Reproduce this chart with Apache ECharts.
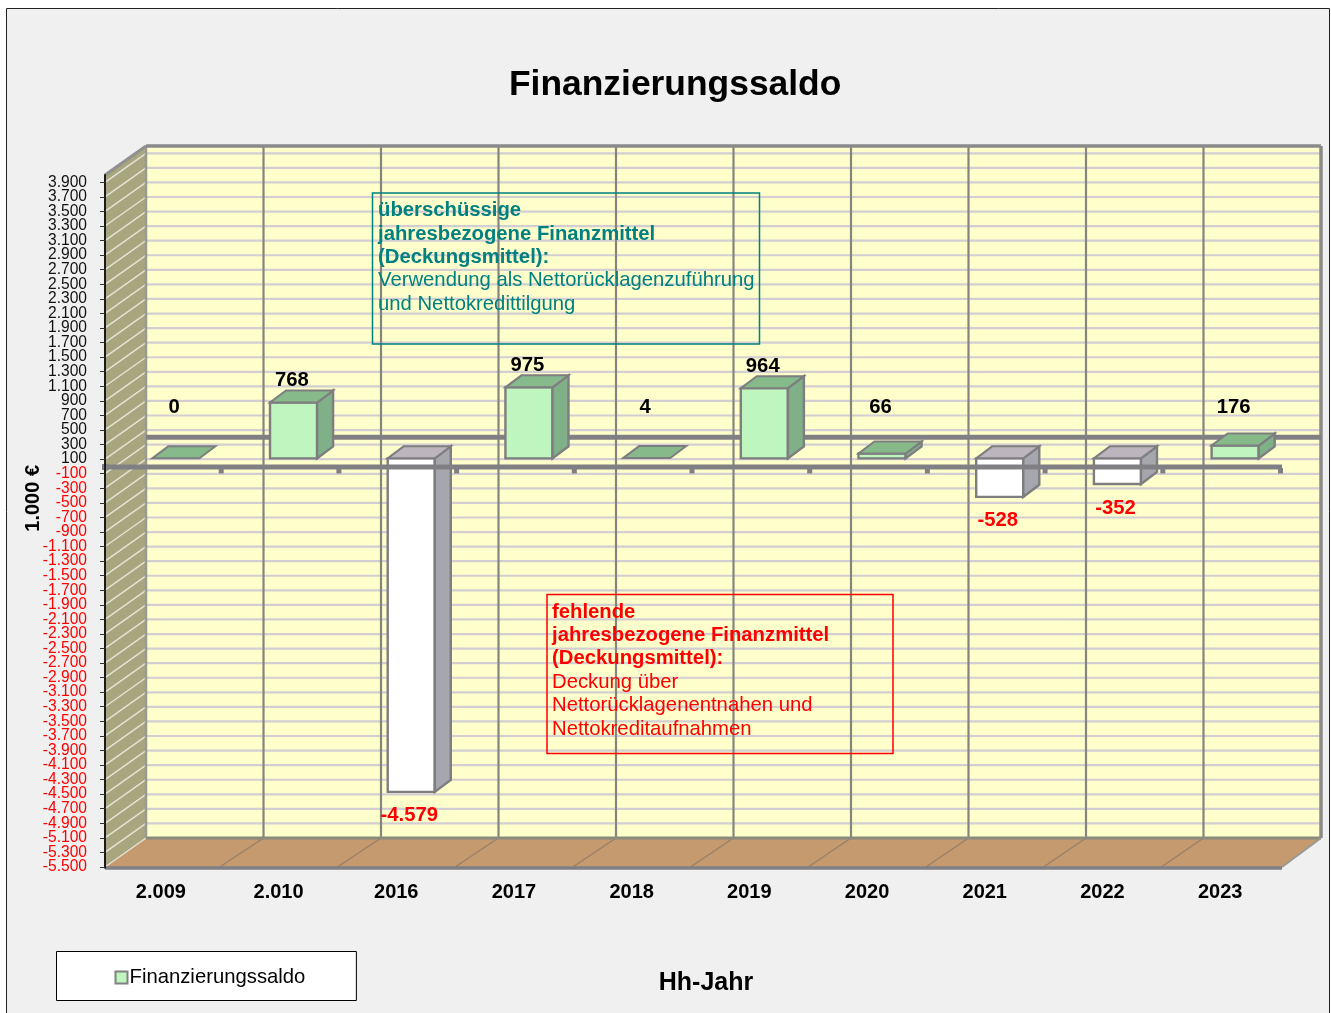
<!DOCTYPE html>
<html>
<head>
<meta charset="utf-8">
<style>html,body{margin:0;padding:0;background:#fff}#c{width:1331px;height:1013px}</style>
<script src="https://cdn.jsdelivr.net/npm/echarts@6/dist/echarts.min.js"></script>
</head>
<body>
<div id="c"></div>
<script>
const categories = ['2.009','2.010','2016','2017','2018','2019','2020','2021','2022','2023'];
const saldo = [0, 768, -4579, 975, 4, 964, 66, -528, -352, 176];
const tickValues = [3900,3700,3500,3300,3100,2900,2700,2500,2300,2100,1900,1700,1500,1300,1100,900,700,500,300,100,
  -100,-300,-500,-700,-900,-1100,-1300,-1500,-1700,-1900,-2100,-2300,-2500,-2700,-2900,-3100,-3300,-3500,-3700,-3900,
  -4100,-4300,-4500,-4700,-4900,-5100,-5300,-5500];
const surplusNote = [['überschüssige',1],['jahresbezogene Finanzmittel',1],['(Deckungsmittel):',1],['Verwendung als Nettorücklagenzuführung',0],['und Nettokredittilgung',0]];
const deficitNote = [['fehlende',1],['jahresbezogene Finanzmittel',1],['(Deckungsmittel):',1],['Deckung über',0],['Nettorücklagenentnahen und',0],['Nettokreditaufnahmen',0]];

const FONT = '"Liberation Sans", Arial, sans-serif';
const Y_MIN = -5510, Y_MAX = 4000;  // axis extent; the ends carry blank labels so the neighbouring ticks stay labelled
const DX = 41, DXR = 39, DY = -29; // depth of the chart box
const BX0 = 12, BY0 = -8;          // bar front offset into depth
const BDX = 16, BDY = -12;         // bar depth
const GRAY = '#808084';

const fmt = v => { const a = Math.abs(v).toString().replace(/\B(?=(\d{3})+$)/g, '.'); return (v < 0 ? '-' : '') + a; };

function frame(api) {
  const band = api.size([1, 0])[0];
  const left = api.coord([0, 0])[0] - band / 2;
  const right = left + band * categories.length;
  const bottom = api.coord([0, -5500])[1];
  const top = api.coord([0, Y_MAX])[1];
  const zero = api.coord([0, 0])[1];
  return { band, left, right, bottom, top, zero };
}
function line(x1, y1, x2, y2, stroke, lineWidth) {
  return { type: 'line', shape: { x1, y1, x2, y2 }, style: { stroke, lineWidth, fill: null } };
}
function poly(points, fill, stroke, lineWidth) {
  return { type: 'polygon', shape: { points }, style: { fill, stroke: stroke || null, lineWidth: lineWidth || 0 } };
}

function renderWalls(params, api) {
  const f = frame(api), c = [];
  const bl = f.left + DX, br = f.right + DXR, bt = f.top + DY, bb = f.bottom + DY;
  const backBand = (br - bl) / categories.length;
  c.push({ type: 'rect', shape: { x: bl, y: bt, width: br - bl, height: bb - bt }, style: { fill: '#FFFFCC' } });
  c.push(poly([[f.left, f.top], [bl, bt], [bl, bb], [f.left, f.bottom]], '#A8A67E'));
  c.push(poly([[f.left, f.bottom], [bl, bb], [br, bb], [f.right, f.bottom]], '#C49A6E'));
  tickValues.forEach(v => {
    const y = api.coord([0, v])[1];
    c.push(line(bl, y + DY, br, y + DY, '#D2CED2', 2.2));
    c.push(line(f.left, y, bl, y + DY, '#E4E3D6', 1.5));
  });
  for (let i = 1; i < categories.length; i++) {
    const x = bl + i * backBand;
    c.push(line(x, bt, x, bb, '#85857F', 2.2));
    c.push(line(f.left + i * f.band - 3, f.bottom, x, bb, '#98806A', 1.4));
  }
  c.push(line(bl, bt, bl, bb, '#9A9A94', 2.5));
  c.push(line(f.left, f.top, bl, bt, '#909090', 3));
  c.push(line(bl, bt, br, bt, '#8A8A8A', 3.5));
  c.push(line(br, bt, br, bb, '#8A8A8A', 3.5));
  c.push(line(bl, bb, br, bb, '#8A8A7E', 3));
  c.push(line(f.right, f.bottom, br, bb, '#9A9A94', 2));
  c.push(line(f.left, f.bottom + 1, f.right, f.bottom + 1, GRAY, 3.5));
  c.push(line(bl, f.zero + DY, br, f.zero + DY, GRAY, 5));
  return { type: 'group', children: c };
}

function renderBar(params, api) {
  const i = api.value(0), v = api.value(1);
  const w = api.size([1, 0])[0] * 0.4;
  const x = api.coord([i, 0])[0] + BX0 - w / 2;
  const y0 = api.coord([i, 0])[1] + BY0;
  const yv = api.coord([i, v])[1] + BY0;
  const t = Math.min(y0, yv), b = Math.max(y0, yv);
  const pos = v >= 0;
  const stroke = '#7E7E80';
  const c = [];
  if (b - t >= 1) {
    c.push(poly([[x, t], [x + w, t], [x + w, b], [x, b]], pos ? '#BFF5BF' : '#FFFFFF', stroke, 2.4));
    c.push(poly([[x + w, t], [x + w + BDX, t + BDY], [x + w + BDX, b + BDY], [x + w, b]], pos ? '#7FB088' : '#A6A6AE', stroke, 2.4));
  }
  c.push(poly([[x, t], [x + w, t], [x + w + BDX, t + BDY], [x + BDX, t + BDY]], pos ? '#86BA8B' : '#BDB5BD', stroke, 2));
  return { type: 'group', children: c };
}

function renderZeroAxis(params, api) {
  const f = frame(api), z = f.zero + 0.6, c = [line(f.left, z, f.right, z, GRAY, 5)];
  for (let i = 1; i <= categories.length; i++) {
    const x = f.left + i * f.band;
    c.push({ type: 'rect', shape: { x: x - 4, y: z + 1, width: 5, height: 5.5 }, style: { fill: GRAY } });
  }
  c.push({ type: 'rect', shape: { x: f.left - 3, y: z - 3, width: 6, height: 6 }, style: { fill: GRAY } });
  return { type: 'group', children: c };
}

function renderLabel(params, api) {
  const i = api.value(0), v = api.value(1);
  const anchor = v < 0 ? v - 205 : (v < 500 ? 828 : v + 420);
  const p = api.coord([i, anchor]);
  return { type: 'text', style: { text: fmt(v), x: p[0] + (v < 0 ? 10 : 10.4), y: p[1] + 1, align: 'center', verticalAlign: 'middle',
    font: 'bold 20.3px ' + FONT, fill: v < 0 ? '#FF0000' : '#000000' } };
}

function noteBox(x, y, w, h, lines, color, textX, firstY) {
  const els = [{ type: 'rect', z: 50, shape: { x, y, width: w, height: h }, style: { fill: 'transparent', stroke: color, lineWidth: 1.5 } }];
  lines.forEach((l, i) => els.push({ type: 'text', z: 50, style: { text: l[0], x: textX, y: firstY + i * 23.4, verticalAlign: 'middle',
    font: (l[1] ? 'bold ' : '') + '20.3px ' + FONT, fill: color } }));
  return els;
}

const rows = saldo.map((v, i) => [i, v]);
const chart = echarts.init(document.getElementById('c'), null, { renderer: 'canvas' });
chart.setOption({
  animation: false,
  textStyle: { fontFamily: FONT },
  title: { text: 'Finanzierungssaldo', left: 509, top: 68, padding: 0, textStyle: { fontFamily: FONT, fontSize: 35.4, fontWeight: 'bold', color: '#000' } },
  grid: { left: 105, right: 49, top: 175, bottom: 145.27, containLabel: false },
  legend: {
    left: 56.5, top: 951.5, orient: 'horizontal', backgroundColor: '#fff', borderColor: '#000', borderWidth: 1, borderRadius: 0,
    padding: [16, 51, 13, 58], itemWidth: 12, itemHeight: 12,
    data: [{ name: 'Finanzierungssaldo', icon: 'rect', itemStyle: { color: '#BFF5BF', borderColor: '#808080', borderWidth: 2 } }],
    textStyle: { fontFamily: FONT, fontSize: 20.3, color: '#000', padding: [0, 0, 0, -3] }
  },
  xAxis: {
    type: 'category', data: categories, boundaryGap: true, position: 'bottom',
    axisLine: { show: false, onZero: false }, axisTick: { show: false }, splitLine: { show: false },
    axisLabel: { fontFamily: FONT, fontSize: 20, fontWeight: 'bold', color: '#000', margin: 15, interval: 0, padding: [0, 6, 0, 0] },
    name: 'Hh-Jahr', nameLocation: 'middle', nameGap: 103, nameMoveOverlap: false,
    nameTextStyle: { fontFamily: FONT, fontSize: 25, fontWeight: 'bold', color: '#000', padding: [0, 0, 0, 25] }
  },
  yAxis: {
    type: 'value', min: Y_MIN, max: Y_MAX, z: 10,
    axisLine: { show: true, onZero: false, lineStyle: { color: '#1a1a1a', width: 2 } },
    axisTick: { show: true, length: 5, customValues: tickValues, lineStyle: { color: '#333', width: 1 } },
    splitLine: { show: false },
    axisLabel: {
      customValues: [Y_MAX, ...tickValues, Y_MIN],
      margin: 18, padding: [2, 0, 0, 0], fontFamily: FONT, fontSize: 15.6,
      color: v => (v < 0 ? '#FF0000' : '#111111'),
      formatter: v => (tickValues.includes(v) ? fmt(v) : '')
    },
    name: '1.000 €', nameLocation: 'middle', nameRotate: 90, nameGap: 62, nameMoveOverlap: false,
    nameTextStyle: { fontFamily: FONT, fontSize: 20, fontWeight: 'bold', color: '#000', padding: [0, 0, 0, 46] }
  },
  graphic: { elements: [
    { type: 'rect', z: -10, shape: { x: 6.5, y: 8.5, width: 1323, height: 1010 }, style: { fill: '#F0F0F0', stroke: '#222', lineWidth: 1 } },
    ...noteBox(372.5, 193, 387, 151, surplusNote, '#008080', 378, 210.7),
    ...noteBox(547, 594.5, 346, 159, deficitNote, '#FF0000', 552, 612)
  ] },
  series: [
    { type: 'custom', name: 'walls', z: 2, silent: true, clip: false, data: [[0, 0]], encode: { x: 0, y: 1 }, renderItem: renderWalls },
    { type: 'custom', name: 'Finanzierungssaldo', z: 3, silent: true, clip: false, data: rows, encode: { x: 0, y: 1 }, renderItem: renderBar, itemStyle: { color: '#BFF5BF' } },
    { type: 'custom', name: 'zero', z: 4, silent: true, clip: false, data: [[0, 0]], encode: { x: 0, y: 1 }, renderItem: renderZeroAxis },
    { type: 'custom', name: 'labels', z: 5, silent: true, clip: false, data: rows, encode: { x: 0, y: 1 }, renderItem: renderLabel }
  ]
});
</script>
</body>
</html>
